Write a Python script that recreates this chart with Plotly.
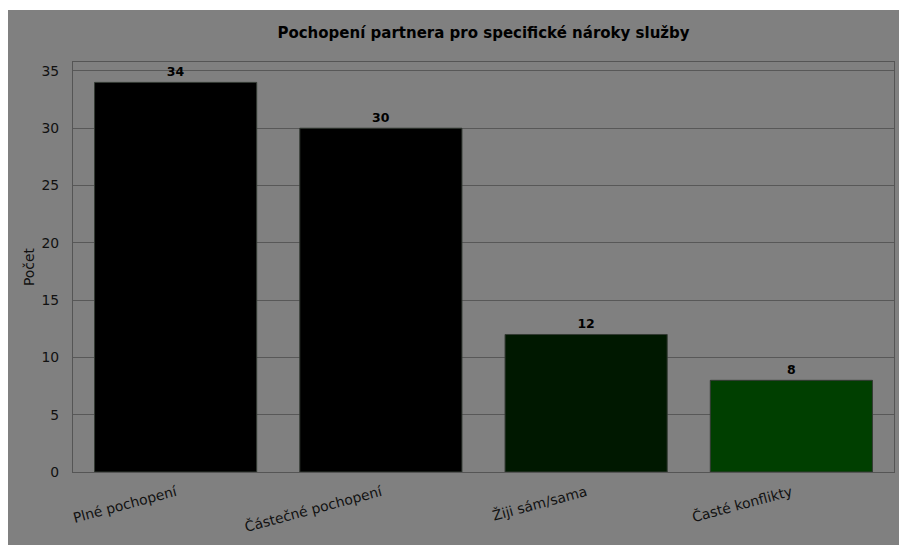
import plotly.graph_objects as go

categories = ["Plné pochopení", "Částečné pochopení", "Žiji sám/sama", "Časté konflikty"]
values = [34, 30, 12, 8]
bar_colors = ["#000000", "#000000", "#001800", "#003f00"]
y_ticks = [0, 5, 10, 15, 20, 25, 30, 35]
title_text = "Pochopení partnera pro specifické nároky služby"
y_title = "Počet"

W, H = 899, 545
ML, MR, MT, MB = 73, 5, 62, 73
pw = W - ML - MR
ph = H - MT - MB

BG = "#808080"
GRID = "#585858"
FONT = "DejaVu Sans"

fig = go.Figure(
    go.Bar(
        x=categories,
        y=values,
        width=0.79,
        marker=dict(color=bar_colors, line=dict(color="#333a33", width=1)),
        text=[str(v) for v in values],
        textposition="outside",
        textfont=dict(family=FONT, size=12.5, color="#000000", weight="bold"),
        cliponaxis=False,
    )
)

# grey figure background, leaving a thin white strip at the left and top
fig.add_shape(
    type="rect", xref="paper", yref="paper", layer="below",
    x0=(8 - ML) / pw, x1=(W - ML) / pw,
    y0=-MB / ph, y1=(H - MB - 10) / ph,
    fillcolor=BG, line=dict(width=0),
)

fig.update_layout(
    width=W, height=H,
    margin=dict(l=ML, r=MR, t=MT, b=MB),
    paper_bgcolor="white",
    plot_bgcolor=BG,
    showlegend=False,
    font=dict(family=FONT, size=13.9, color="#111111"),
    title=dict(
        text="<b>" + title_text + "</b>",
        x=(ML + pw / 2) / W, xanchor="center",
        y=1 - 33 / H, yanchor="middle",
        font=dict(family=FONT, size=15, color="#000000"),
    ),
    bargap=0.2,
)

fig.update_xaxes(
    range=[-0.5, 3.5],
    tickangle=-15,
    showline=True, mirror=True, linecolor="#555555", linewidth=1.2,
    showgrid=False, ticks="", ticklabelstandoff=6,
    tickfont=dict(family=FONT, size=13.9, color="#111111"),
)
fig.update_yaxes(
    range=[0, 35.78],
    tickvals=y_ticks,
    showline=True, mirror=True, linecolor="#555555", linewidth=1.2,
    showgrid=True, gridcolor=GRID, gridwidth=1.3,
    zeroline=False, ticks="", ticklabelstandoff=10,
    tickfont=dict(family=FONT, size=13.9, color="#111111"),
    title=dict(text=y_title, standoff=3, font=dict(family=FONT, size=13.9, color="#111111")),
)

fig.write_html(
    "out.html",
    config={"displayModeBar": False},
    post_script="document.body.style.margin='0';document.body.style.overflow='hidden';",
)
